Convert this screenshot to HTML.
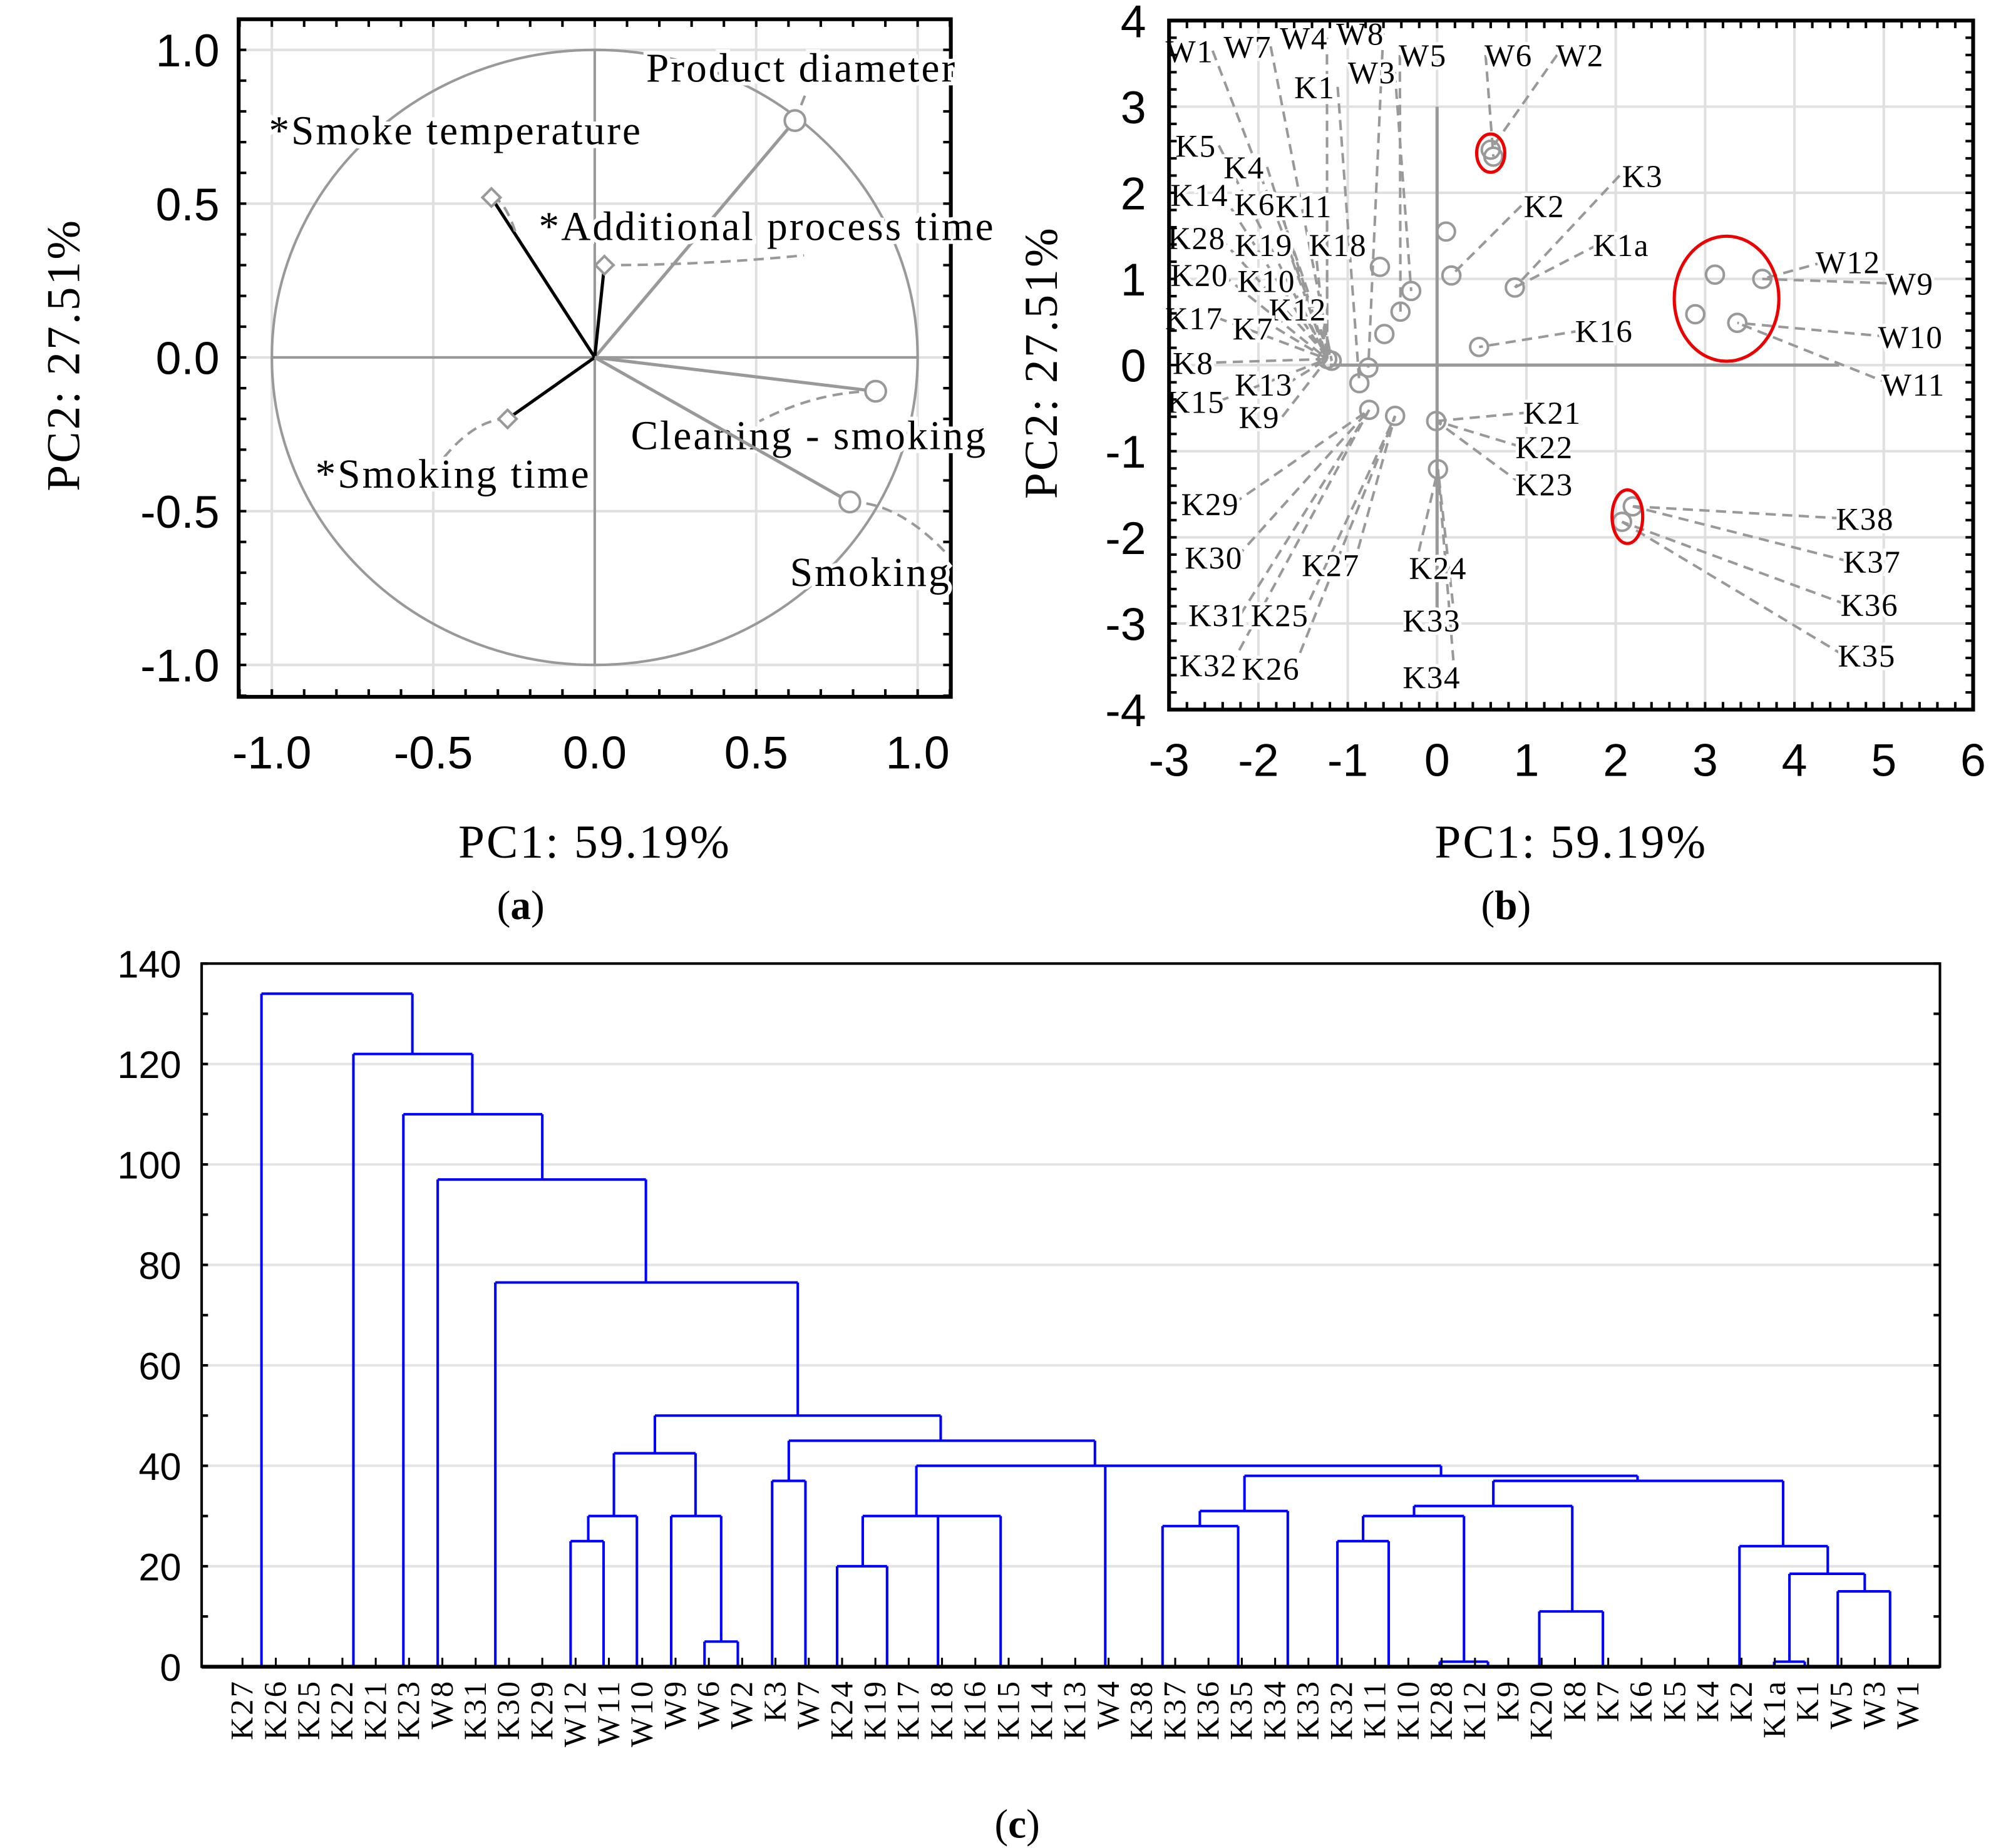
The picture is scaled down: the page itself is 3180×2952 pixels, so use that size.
<!DOCTYPE html>
<html><head><meta charset="utf-8"><style>
html,body{margin:0;padding:0;background:#fff}
svg{display:block}
.sans{font-family:"Liberation Sans",sans-serif}
.serif{font-family:"Liberation Serif",serif}
</style></head><body>
<svg id="fig" width="3180" height="2952" viewBox="0 0 1560 1448" xmlns="http://www.w3.org/2000/svg">
<g id="pa"></g>
<g id="pb"></g>
<g id="pc"></g>
<text class="serif" x="466" y="672" font-size="37" letter-spacing="1.5" text-anchor="middle">PC1: 59.19%</text>
<text class="serif" x="408" y="720" font-size="32" text-anchor="middle">(<tspan font-weight="bold">a</tspan>)</text>
<text class="serif" x="62" y="278" font-size="37" letter-spacing="1.5" text-anchor="middle" transform="rotate(-90 62 278)">PC2: 27.51%</text>
<text class="serif" x="1231" y="672" font-size="37" letter-spacing="1.5" text-anchor="middle">PC1: 59.19%</text>
<text class="serif" x="1180" y="720" font-size="32" text-anchor="middle">(<tspan font-weight="bold">b</tspan>)</text>
<text class="serif" x="828" y="284" font-size="37" letter-spacing="1.5" text-anchor="middle" transform="rotate(-90 828 284)">PC2: 27.51%</text>
<text class="serif" x="797" y="1440" font-size="32" text-anchor="middle">(<tspan font-weight="bold">c</tspan>)</text>
</svg>
<script>
const NS="http://www.w3.org/2000/svg";
function mk(p,t,a){const e=document.createElementNS(NS,t);for(const k in a)e.setAttribute(k,a[k]);p.appendChild(e);return e;}

// ===== Panel a data =====
const aVarNames=["Product diameter","*Smoke temperature","*Additional process time","Cleaning - smoking","*Smoking time","Smoking"];
const aPC1=[0.62,-0.32,0.03,0.87,-0.27,0.79];
const aPC2=[0.77,0.52,0.30,-0.11,-0.20,-0.47];
const aMarker=["circle","diamond","diamond","circle","diamond","circle"];
const aTicks=[-1.0,-0.5,0.0,0.5,1.0];
const aTickLabels=["-1.0","-0.5","0.0","0.5","1.0"];

// ===== Panel b data =====
const bPC1=[0.6,0.63,0.1,0.16,0.87,-0.64,-0.29,-0.41,-0.59,0.47,-1.23,-1.18,-0.77,-0.87,-0.76,-0.47,-0.01,0.01,3.11,3.64,2.89,3.36,2.19,2.07];
const bPC2=[2.5,2.42,1.55,1.04,0.9,1.14,0.86,0.62,0.36,0.21,0.07,0.05,-0.03,-0.21,-0.52,-0.59,-0.65,-1.21,1.05,1.0,0.59,0.49,-1.64,-1.82];
const bXTicks=[-3,-2,-1,0,1,2,3,4,5,6];
const bYTicks=[-4,-3,-2,-1,0,1,2,3,4];
const bLabels=["W1","W7","W4","W8","W3","W5","W6","W2","K1","K5","K4","K14","K6","K11","K3","K2","K1a","K28","K19","K18","K20","K10","K12","K17","K7","K8","K13","K15","K9","K16","K21","K22","K23","K29","K30","K27","K24","K31","K25","K33","K32","K26","K34","W12","W9","W10","W11","K38","K37","K36","K35"];
const bLabelPC1=[-2.77,-2.12,-1.49,-0.86,-0.73,-0.16,0.8,1.6,-1.37,-2.7,-2.16,-2.66,-2.04,-1.49,2.3,1.2,2.06,-2.69,-1.94,-1.11,-2.66,-1.91,-1.56,-2.72,-2.06,-2.73,-1.94,-2.7,-1.99,1.87,1.29,1.2,1.2,-2.54,-2.5,-1.19,0.01,-2.46,-1.76,-0.06,-2.56,-1.86,-0.06,4.6,5.29,5.3,5.33,4.79,4.87,4.84,4.81];
const bLabelPC2=[3.65,3.7,3.8,3.85,3.4,3.6,3.6,3.6,3.23,2.55,2.3,1.98,1.87,1.85,2.2,1.85,1.4,1.48,1.4,1.4,1.05,0.98,0.65,0.55,0.43,0.03,-0.22,-0.42,-0.6,0.4,-0.55,-0.95,-1.38,-1.61,-2.23,-2.32,-2.35,-2.9,-2.9,-2.96,-3.48,-3.52,-3.62,1.2,0.95,0.33,-0.22,-1.78,-2.28,-2.78,-3.37];
const bLink=[11,11,10,12,6,7,1,0,13,10,10,10,11,10,4,3,4,11,10,10,10,10,11,10,10,10,10,10,10,9,16,16,16,14,14,15,17,14,15,17,14,15,17,19,19,21,21,22,22,23,23];

// ===== Panel c data =====
const cLeaves=["K27","K26","K25","K22","K21","K23","W8","K31","K30","K29","W12","W11","W10","W9","W6","W2","K3","W7","K24","K19","K17","K18","K16","K15","K14","K13","W4","K38","K37","K36","K35","K34","K33","K32","K11","K10","K28","K12","K9","K20","K8","K7","K6","K5","K4","K2","K1a","K1","W5","W3","W1"];
const cYTicks=[0,20,40,60,80,100,120,140];
// merges (positions in leaf units)
const cMergeLeft =[0.57,3.33,4.83,5.86,7.59,12.38,11.15,10.38,9.85,12.87,13.87,16.40,15.90,20.23,18.62,17.85,30.08,28.74,27.62,37.55,35.17,33.64,32.87,35.94,38.93,44.94,46.44,45.98,47.89];
const cMergeRight=[5.10,6.90,9.00,12.11,16.67,20.96,13.60,11.84,10.84,14.37,14.87,25.59,16.90,35.98,22.76,19.35,41.88,31.38,29.89,46.25,39.92,36.67,34.41,37.39,40.84,47.59,48.70,46.90,49.46];
const cMergeH    =[134,122,110,97,76.5,50,42.5,30,25,30,5,45,37,40,30,20,38,31,28,37,32,30,25,1,11,24,18.5,1,15];
const cLeftH     =[0,0,0,0,0,42.5,30,25,0,0,0,37,0,30,20,0,31,28,0,32,30,25,0,0,0,0,1,0,0];
const cRightH    =[122,110,97,76.5,50,45,30,0,0,5,0,40,0,38,0,0,37,0,0,24,11,1,0,0,0,18.5,15,0,0];
const cSingleX=[25.9,20.88];
const cSingleH=[40,30];

// ===== Draw panel a =====
(function(){
 const g=document.getElementById('pa');
 const X0=187,X1=745,Y0=15,Y1=546;
 const sx=v=>466+v*253, sy=v=>280-v*241;
 aTicks.forEach(t=>{
  let l=mk(g,'line',{x1:sx(t),x2:sx(t),y1:Y0,y2:Y1,stroke:'#e0e0e0','stroke-width':2});
  
  l=mk(g,'line',{x1:X0,x2:X1,y1:sy(t),y2:sy(t),stroke:'#e0e0e0','stroke-width':2});
  
 });
 let c=mk(g,'ellipse',{cx:sx(0),cy:sy(0),rx:253,ry:241,fill:'none',stroke:'#999','stroke-width':2});
 
 mk(g,'line',{x1:sx(-1),x2:sx(1),y1:sy(0),y2:sy(0),stroke:'#999','stroke-width':2});
 mk(g,'line',{x1:sx(0),x2:sx(0),y1:sy(1),y2:sy(-1),stroke:'#999','stroke-width':2});
 const f=mk(g,'rect',{x:X0,y:Y0,width:X1-X0,height:Y1-Y0,fill:'none',stroke:'#000','stroke-width':3});
 
 for(let v=-1.1;v<=1.11;v+=0.1){const xx=sx(v);if(xx>X0&&xx<X1){mk(g,'line',{x1:xx,x2:xx,y1:Y1,y2:Y1-6,stroke:'#000','stroke-width':2});mk(g,'line',{x1:xx,x2:xx,y1:Y0,y2:Y0+6,stroke:'#000','stroke-width':2});}
  const yy=sy(v);if(yy>Y0&&yy<Y1){mk(g,'line',{x1:X0,x2:X0+6,y1:yy,y2:yy,stroke:'#000','stroke-width':2});mk(g,'line',{x1:X1,x2:X1-6,y1:yy,y2:yy,stroke:'#000','stroke-width':2});}}
 aTicks.forEach((t,i)=>{
  let tx=mk(g,'text',{x:sx(t),y:602,'font-size':36,'text-anchor':'middle',class:'sans'});tx.textContent=aTickLabels[i];
  
  tx=mk(g,'text',{x:172,y:sy(t)+13,'font-size':36,'text-anchor':'end',class:'sans'});tx.textContent=aTickLabels[i];
  
 });
 const labPos=[[628,64],[357,113],[601,188],[634,352],[355,382],[682,459]];
 const conn=[[0,0],[405,185],[630,200],[595,330],[345,362],[740,432]];
 aVarNames.forEach((n,i)=>{
  const px=sx(aPC1[i]),py=sy(aPC2[i]);
  const col=aMarker[i]=='diamond'?'#000':'#999';
  let ln=mk(g,'line',{x1:sx(0),y1:sy(0),x2:px,y2:py,stroke:col,'stroke-width':2.5});
  
  if(i==0){mk(g,'line',{x1:px,y1:py,x2:px+8,y2:py-20,stroke:'#999','stroke-width':2,'stroke-dasharray':'8,5'});}
  else {mk(g,'path',{d:`M${px},${py} Q${(px+conn[i][0])/2},${py} ${conn[i][0]},${conn[i][1]}`,fill:'none',stroke:'#999','stroke-width':2,'stroke-dasharray':'8,5'});}
  let m;
  if(aMarker[i]=='circle') m=mk(g,'circle',{cx:px,cy:py,r:8,fill:'#fff',stroke:'#999','stroke-width':2});
  else m=mk(g,'rect',{x:px-5,y:py-5,width:10,height:10,fill:'#fff',stroke:'#999','stroke-width':2,transform:`rotate(45 ${px} ${py})`});
  
  const t=mk(g,'text',{x:labPos[i][0],y:labPos[i][1],'font-size':32,'letter-spacing':1.5,'text-anchor':'middle',class:'serif',fill:'#000',stroke:'#fff','stroke-width':6,'paint-order':'stroke'});
  t.textContent=n;
 });
})();

// ===== Draw panel b =====
(function(){
 const g=document.getElementById('pb');
 const X0=916,X1=1546,Y0=16,Y1=556;
 const sx=v=>1126+v*70, sy=v=>286-v*67.5;
 bXTicks.forEach(t=>{let l=mk(g,'line',{x1:sx(t),x2:sx(t),y1:Y0,y2:Y1,stroke:'#e0e0e0','stroke-width':2});});
 bYTicks.forEach(t=>{let l=mk(g,'line',{x1:X0,x2:X1,y1:sy(t),y2:sy(t),stroke:'#e0e0e0','stroke-width':2});});
 mk(g,'line',{x1:sx(-1.2),x2:sx(4.5),y1:sy(0),y2:sy(0),stroke:'#999','stroke-width':2.5});
 mk(g,'line',{x1:sx(0),x2:sx(0),y1:sy(3),y2:sy(-3.1),stroke:'#999','stroke-width':2.5});
 bLabels.forEach((n,i)=>{
  const j=bLink[i];const lx=sx(bLabelPC1[i]),ly=sy(bLabelPC2[i]);
  const px=sx(bPC1[j]),py=sy(bPC2[j]);
  const ex=lx+(px>lx?18:-18);
  let l=mk(g,'line',{x1:ex,y1:ly,x2:px,y2:py,stroke:'#999','stroke-width':2,'stroke-dasharray':'8,5'});
  
 });
 bPC1.forEach((v,i)=>{
  const c=mk(g,'circle',{cx:sx(v),cy:sy(bPC2[i]),r:7,fill:'none',stroke:'#999','stroke-width':2});
  
 });
 [[0.6,2.46,11,15],[3.24,0.77,41,49],[2.13,-1.76,12,21]].forEach(e=>{
  const c=mk(g,'ellipse',{cx:sx(e[0]),cy:sy(e[1]),rx:e[2],ry:e[3],fill:'none',stroke:'#e00','stroke-width':2.5});
  
 });
 bLabels.forEach((n,i)=>{
  const t=mk(g,'text',{x:sx(bLabelPC1[i]),y:sy(bLabelPC2[i])+9,'font-size':25,'letter-spacing':0.8,'text-anchor':'middle',class:'serif',fill:'#000',stroke:'#fff','stroke-width':5,'paint-order':'stroke'});
  t.textContent=n;
 });
 const f=mk(g,'rect',{x:X0,y:Y0,width:X1-X0,height:Y1-Y0,fill:'none',stroke:'#000','stroke-width':3});
 
 for(let v=-3;v<=6.01;v+=0.2){const xx=sx(v);if(xx>X0+1&&xx<X1-1){mk(g,'line',{x1:xx,x2:xx,y1:Y1,y2:Y1-6,stroke:'#000','stroke-width':2});mk(g,'line',{x1:xx,x2:xx,y1:Y0,y2:Y0+6,stroke:'#000','stroke-width':2});}}
 for(let v=-4;v<=4.01;v+=0.2){const yy=sy(v);if(yy>Y0+1&&yy<Y1-1){mk(g,'line',{x1:X0,x2:X0+6,y1:yy,y2:yy,stroke:'#000','stroke-width':2});mk(g,'line',{x1:X1,x2:X1-6,y1:yy,y2:yy,stroke:'#000','stroke-width':2});}}
 bXTicks.forEach(t=>{let tx=mk(g,'text',{x:sx(t),y:608,'font-size':36,'text-anchor':'middle',class:'sans'});tx.textContent=String(t);});
 bYTicks.forEach(t=>{let tx=mk(g,'text',{x:898,y:sy(t)+13,'font-size':36,'text-anchor':'end',class:'sans'});tx.textContent=String(t);});
})();

// ===== Draw panel c =====
(function(){
 const g=document.getElementById('pc');
 const X0=158,X1=1520,Y0=755,Y1=1306;
 const lx=i=>190+i*26.1;
 const sy=v=>Y1-v*(Y1-Y0)/140;
 cYTicks.forEach(t=>{let l=mk(g,'line',{x1:X0,x2:X1,y1:sy(t),y2:sy(t),stroke:'#e4e4e4','stroke-width':2});});
 const col='#0000ff';
 cMergeH.forEach((h,i)=>{
  const a=lx(cMergeLeft[i]),b=lx(cMergeRight[i]);
  let l=mk(g,'line',{x1:a,x2:b,y1:sy(h),y2:sy(h),stroke:col,'stroke-width':2});
  
  mk(g,'line',{x1:a,x2:a,y1:sy(h),y2:sy(cLeftH[i]),stroke:col,'stroke-width':2});
  mk(g,'line',{x1:b,x2:b,y1:sy(h),y2:sy(cRightH[i]),stroke:col,'stroke-width':2});
 });
 cSingleX.forEach((x,i)=>{
  const l=mk(g,'line',{x1:lx(x),x2:lx(x),y1:sy(cSingleH[i]),y2:sy(0),stroke:col,'stroke-width':2});
  
 });
 const f=mk(g,'rect',{x:X0,y:Y0,width:X1-X0,height:Y1-Y0,fill:'none',stroke:'#000','stroke-width':2});
 
 for(let v=0;v<=140;v+=10){mk(g,'line',{x1:X0,x2:X0+5,y1:sy(v),y2:sy(v),stroke:'#000','stroke-width':2});mk(g,'line',{x1:X1,x2:X1-5,y1:sy(v),y2:sy(v),stroke:'#000','stroke-width':2});}
 mk(g,'line',{x1:X0,x2:X1,y1:Y1,y2:Y1,stroke:'#000','stroke-width':3});
 cYTicks.forEach(t=>{let tx=mk(g,'text',{x:142,y:sy(t)+11,'font-size':30,'text-anchor':'end',class:'sans'});tx.textContent=String(t);});
 cLeaves.forEach((n,i)=>{
  const x=lx(i);
  mk(g,'line',{x1:x,x2:x,y1:Y1,y2:Y1-7,stroke:'#000','stroke-width':1.5});
  const t=mk(g,'text',{x:0,y:0,'font-size':25,'letter-spacing':1.5,'text-anchor':'end',class:'serif',transform:`translate(${x+8},1316) rotate(-90)`});
  t.textContent=n;
 });
})();
</script>
</body></html>
